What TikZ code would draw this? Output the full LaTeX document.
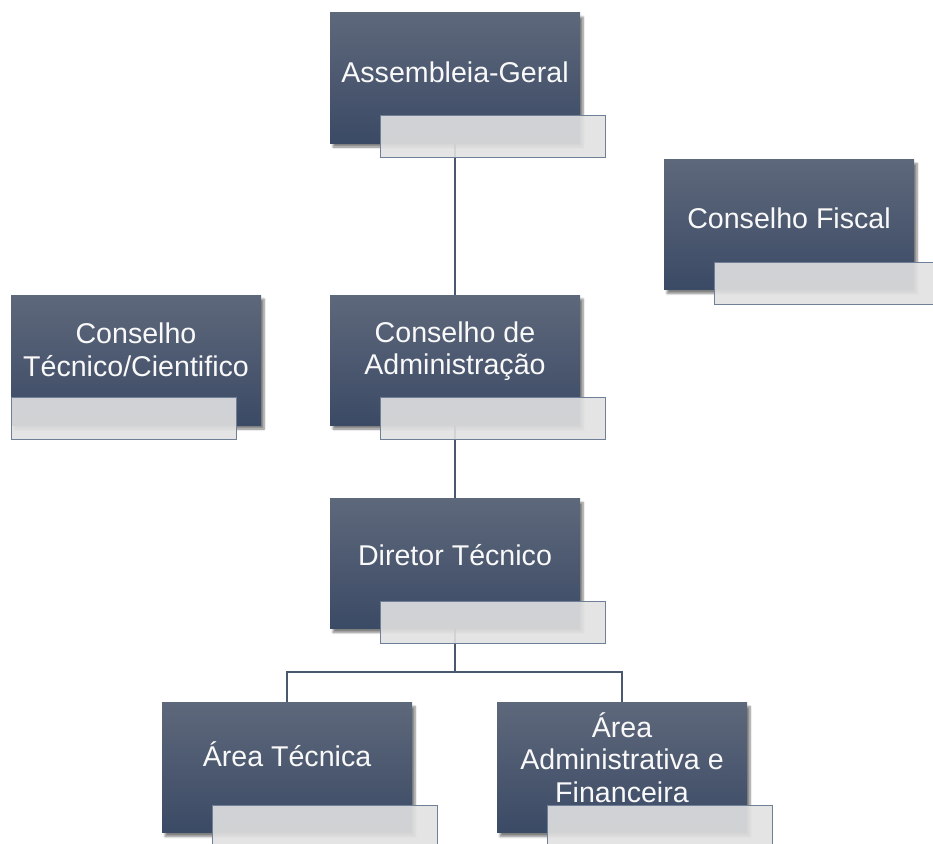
\documentclass[tikz,border=0pt]{standalone}
\usepackage{fontspec}
\setmainfont{Liberation Sans}
\usetikzlibrary{shadows.blur,backgrounds}
\definecolor{unittop}{HTML}{5E687B}
\definecolor{unitbottom}{HTML}{3B4A65}
\definecolor{barfill}{HTML}{E1E1E1}
\definecolor{barline}{HTML}{6F7F97}
\definecolor{linkcolor}{HTML}{4A586F}

\begin{document}
\begin{tikzpicture}[
    x=1pt, y=-1pt,
    unit/.style={
        rectangle,
        minimum width=250pt,
        minimum height=130pt,
        inner sep=0pt,
        top color=unittop,
        bottom color=unitbottom,
        blur shadow={shadow xshift=3pt, shadow yshift=-4pt,
            shadow blur steps=6, shadow opacity=50}
    },
    unitbar/.style={
        rectangle,
        anchor=north west,
        minimum width=225pt,
        minimum height=42pt,
        inner sep=0pt,
        draw=barline,
        line width=1pt,
        fill=barfill,
        fill opacity=0.9
    },
    unittext/.style={
        text=white!95!gray,
        font=\fontsize{28.6}{32.5}\selectfont,
        align=center,
        inner sep=0pt
    },
    link/.style={
        draw=linkcolor,
        line width=2.2pt
    }
]
\useasboundingbox (0,0) rectangle (933,843);

% Assembleia-Geral
\node[unit] (ag) at (455,78) {};
\node[unittext] (ag-txt) at ([yshift=6pt]ag.center) {Assembleia-Geral};

% Conselho Fiscal
\node[unit] (cf) at (789,224.5) {};
\node[unittext] (cf-txt) at ([yshift=6pt]cf.center) {Conselho Fiscal};

% Conselho Tecnico/Cientifico
\node[unit] (ctc) at (136,360) {};
\node[unittext] (ctc-txt) at ([yshift=10pt]ctc.center) {Conselho\\Técnico/Cientifico};

% Conselho de Administracao
\node[unit] (ca) at (455,360) {};
\node[unittext] (ca-txt) at ([yshift=9pt]ca.center) {Conselho de\\Administração};

% Diretor Tecnico
\node[unit] (dt) at (455,563.5) {};
\node[unittext] (dt-txt) at ([yshift=8pt]dt.center) {Diretor Técnico};

% Area Tecnica
\node[unit] (at) at (287,767.5) {};
\node[unittext] (at-txt) at ([yshift=13pt]at.center) {Área Técnica};

% Area Administrativa e Financeira
\node[unit] (aa) at (622,767.5) {};
\node[unittext] (aa-txt) at ([yshift=10pt]aa.center) {Área\\Administrativa e\\Financeira};

% Links
\begin{scope}[on background layer]
\draw[link] (ag.south) -- (ca.north);
\draw[link] (ca.south) -- (dt.north);
\coordinate (split) at (455,672);
\draw[link] (dt.south) -- (split);
\draw[link] (split) -| (at.north);
\draw[link] (split) -| (aa.north);
\end{scope}

% Bars
\node[unitbar] (ag-bar) at ([xshift=50pt,yshift=28pt]ag.south west) {};
\node[unitbar] (cf-bar) at ([xshift=50pt,yshift=28pt]cf.south west) {};
\node[unitbar] (ctc-bar) at ([yshift=28pt]ctc.south west) {};
\node[unitbar] (ca-bar) at ([xshift=50pt,yshift=28pt]ca.south west) {};
\node[unitbar] (dt-bar) at ([xshift=50pt,yshift=28pt]dt.south west) {};
\node[unitbar] (at-bar) at ([xshift=50pt,yshift=28pt]at.south west) {};
\node[unitbar] (aa-bar) at ([xshift=50pt,yshift=28pt]aa.south west) {};

\end{tikzpicture}
\end{document}
